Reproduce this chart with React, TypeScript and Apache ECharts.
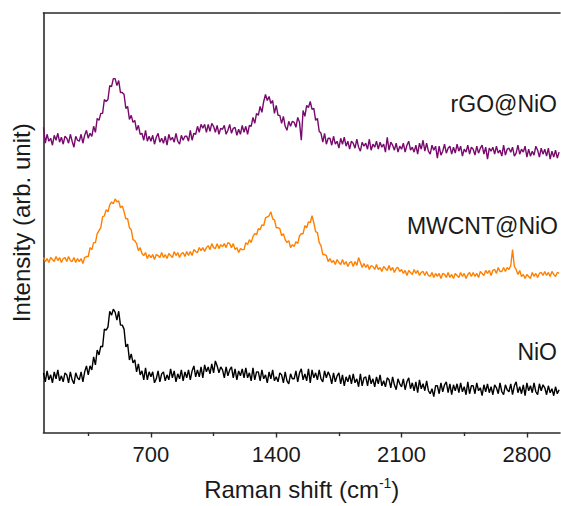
import React, { useEffect, useRef } from "react";
import * as echarts from "echarts";

// Raman shift sampling positions (cm^-1)
const ramanShift = [
  100, 110, 120, 130, 140, 150, 160, 170, 180, 190, 200, 210, 220, 230, 240, 250, 260, 270, 280, 290,
  300, 310, 320, 330, 340, 350, 360, 370, 380, 390, 400, 410, 420, 430, 440, 450, 460, 470, 480, 490,
  500, 510, 520, 530, 540, 550, 560, 570, 580, 590, 600, 610, 620, 630, 640, 650, 660, 670, 680, 690,
  700, 710, 720, 730, 740, 750, 760, 770, 780, 790, 800, 810, 820, 830, 840, 850, 860, 870, 880, 890,
  900, 910, 920, 930, 940, 950, 960, 970, 980, 990, 1000, 1010, 1020, 1030, 1040, 1050, 1060, 1070, 1080, 1090,
  1100, 1110, 1120, 1130, 1140, 1150, 1160, 1170, 1180, 1190, 1200, 1210, 1220, 1230, 1240, 1250, 1260, 1270, 1280, 1290,
  1300, 1310, 1320, 1330, 1340, 1350, 1360, 1370, 1380, 1390, 1400, 1410, 1420, 1430, 1440, 1450, 1460, 1470, 1480, 1490,
  1500, 1510, 1520, 1530, 1540, 1550, 1560, 1570, 1580, 1590, 1600, 1610, 1620, 1630, 1640, 1650, 1660, 1670, 1680, 1690,
  1700, 1710, 1720, 1730, 1740, 1750, 1760, 1770, 1780, 1790, 1800, 1810, 1820, 1830, 1840, 1850, 1860, 1870, 1880, 1890,
  1900, 1910, 1920, 1930, 1940, 1950, 1960, 1970, 1980, 1990, 2000, 2010, 2020, 2030, 2040, 2050, 2060, 2070, 2080, 2090,
  2100, 2110, 2120, 2130, 2140, 2150, 2160, 2170, 2180, 2190, 2200, 2210, 2220, 2230, 2240, 2250, 2260, 2270, 2280, 2290,
  2300, 2310, 2320, 2330, 2340, 2350, 2360, 2370, 2380, 2390, 2400, 2410, 2420, 2430, 2440, 2450, 2460, 2470, 2480, 2490,
  2500, 2510, 2520, 2530, 2540, 2550, 2560, 2570, 2580, 2590, 2600, 2610, 2620, 2630, 2640, 2650, 2660, 2670, 2680, 2690,
  2700, 2710, 2720, 2730, 2740, 2750, 2760, 2770, 2780, 2790, 2800, 2810, 2820, 2830, 2840, 2850, 2860, 2870, 2880, 2890,
  2900, 2910, 2920, 2930, 2940, 2950, 2960, 2970, 2980,
];

// rGO@NiO (offset intensity, arb. unit)
const rgoNiO = [
  307, 291, 300, 293, 296, 289, 299, 294, 301, 292, 297, 290, 298, 296, 291, 300, 293, 287, 298, 294,
  293, 300, 291, 299, 304, 296, 301, 298, 308, 302, 316, 314, 321, 321, 335, 333, 335, 349, 348, 356,
  356, 349, 354, 342, 342, 340, 326, 328, 315, 319, 312, 314, 304, 309, 300, 301, 294, 304, 293, 298,
  293, 299, 290, 297, 301, 292, 296, 291, 298, 289, 300, 294, 297, 292, 301, 293, 290, 299, 294, 298,
  298, 293, 304, 294, 301, 300, 308, 302, 310, 306, 310, 302, 310, 303, 311, 308, 302, 309, 300, 306,
  305, 309, 300, 304, 310, 301, 306, 307, 299, 305, 300, 309, 302, 308, 300, 309, 308, 317, 311, 321,
  319, 328, 322, 333, 340, 334, 338, 331, 334, 321, 329, 319, 319, 311, 318, 308, 304, 313, 308, 313,
  312, 307, 317, 312, 294, 324, 318, 329, 327, 333, 325, 326, 314, 316, 303, 301, 292, 301, 290, 296,
  296, 289, 298, 290, 293, 286, 296, 290, 297, 288, 293, 285, 293, 291, 286, 295, 287, 283, 292, 288,
  291, 285, 295, 284, 290, 287, 293, 285, 292, 287, 290, 282, 297, 284, 292, 289, 284, 291, 282, 288,
  285, 291, 282, 289, 293, 284, 287, 282, 289, 280, 291, 285, 294, 283, 291, 283, 280, 289, 284, 288,
  276, 288, 279, 283, 290, 281, 286, 288, 280, 287, 281, 290, 283, 288, 278, 285, 282, 289, 280, 287,
  285, 279, 288, 281, 286, 289, 280, 287, 275, 286, 283, 287, 280, 288, 281, 284, 278, 289, 279, 285,
  286, 282, 287, 278, 281, 289, 280, 285, 282, 288, 277, 285, 278, 283, 279, 288, 284, 277, 286, 280,
  285, 278, 286, 275, 283, 277, 284, 276, 282,
];

// MWCNT@NiO
const mwcntNiO = [
  176, 172, 175, 171, 176, 174, 172, 177, 173, 176, 171, 175, 176, 172, 177, 173, 172, 176, 171, 175,
  172, 175, 170, 176, 177, 177, 186, 184, 191, 191, 200, 203, 206, 217, 218, 224, 222, 229, 232, 230,
  235, 232, 233, 226, 228, 222, 215, 215, 206, 204, 194, 193, 190, 183, 186, 180, 178, 181, 175, 179,
  176, 179, 174, 179, 178, 176, 181, 176, 179, 175, 180, 178, 176, 182, 178, 181, 176, 180, 181, 177,
  182, 178, 182, 178, 184, 182, 181, 186, 183, 186, 182, 186, 188, 184, 190, 186, 185, 190, 185, 189,
  187, 190, 186, 191, 190, 186, 190, 184, 186, 181, 185, 184, 184, 191, 189, 194, 191, 197, 200, 199,
  205, 204, 209, 208, 216, 217, 218, 222, 215, 214, 206, 206, 205, 198, 200, 194, 191, 193, 186, 189,
  187, 192, 190, 198, 200, 200, 208, 206, 212, 211, 218, 211, 202, 201, 191, 188, 179, 179, 178, 172,
  175, 171, 173, 169, 174, 171, 169, 174, 169, 172, 167, 171, 172, 167, 172, 168, 176, 171, 166, 170,
  166, 169, 164, 168, 167, 164, 169, 164, 166, 162, 167, 165, 163, 168, 163, 166, 161, 165, 166, 162,
  164, 160, 163, 158, 163, 161, 159, 164, 160, 163, 158, 161, 162, 158, 162, 158, 157, 161, 156, 160,
  157, 160, 155, 160, 159, 156, 161, 156, 159, 155, 160, 158, 156, 161, 157, 160, 155, 159, 161, 157,
  161, 157, 160, 156, 162, 160, 158, 163, 160, 163, 158, 163, 164, 160, 166, 162, 162, 166, 162, 166,
  164, 168, 184, 167, 164, 159, 163, 157, 159, 155, 159, 157, 155, 161, 157, 160, 156, 160, 161, 158,
  162, 158, 161, 157, 162, 159, 157, 161, 160,
];

// NiO
const niO = [
  60, 51, 62, 53, 58, 50, 61, 54, 63, 52, 57, 51, 60, 58, 50, 61, 53, 49, 60, 55,
  53, 61, 51, 61, 67, 58, 67, 63, 76, 68, 83, 78, 87, 86, 104, 103, 106, 122, 118, 124,
  121, 113, 122, 108, 108, 104, 86, 89, 73, 79, 70, 73, 61, 69, 58, 62, 53, 65, 53, 61,
  56, 61, 50, 54, 62, 51, 59, 61, 52, 58, 53, 64, 55, 62, 51, 59, 54, 63, 52, 61,
  55, 63, 53, 62, 67, 56, 63, 56, 66, 55, 68, 61, 66, 59, 69, 60, 72, 67, 60, 66,
  63, 55, 66, 57, 63, 66, 55, 64, 53, 62, 57, 64, 55, 65, 55, 60, 52, 65, 53, 61,
  61, 52, 63, 54, 58, 50, 61, 54, 63, 52, 56, 51, 60, 58, 50, 61, 52, 49, 59, 54,
  54, 62, 51, 60, 64, 53, 59, 52, 64, 50, 63, 55, 60, 53, 63, 54, 51, 62, 55, 61,
  57, 49, 60, 51, 57, 60, 49, 58, 47, 56, 51, 58, 49, 59, 50, 54, 46, 59, 47, 55,
  56, 47, 58, 49, 54, 46, 56, 49, 58, 47, 52, 46, 55, 53, 45, 56, 48, 43, 54, 49,
  46, 54, 43, 51, 55, 44, 50, 42, 51, 40, 53, 44, 49, 42, 52, 42, 39, 44, 36, 47,
  47, 39, 50, 41, 48, 51, 40, 49, 38, 48, 42, 49, 40, 50, 41, 46, 38, 51, 39, 47,
  47, 39, 50, 42, 45, 37, 48, 41, 49, 40, 46, 38, 48, 45, 39, 50, 41, 38, 48, 43,
  41, 49, 38, 47, 51, 40, 46, 39, 48, 37, 50, 42, 47, 40, 50, 41, 38, 49, 42, 48,
  45, 38, 47, 40, 44, 37, 46, 39, 43,
];

const majorTicks = [700, 1400, 2100, 2800];
const minorTicks = [350, 1050, 1750, 2450];
const seriesNames = ["rGO@NiO", "MWCNT@NiO", "NiO"];
const seriesColors = ["#780a6e", "#ff8000", "#000000"];

const FONT = "Liberation Sans, Arial, sans-serif";

export default function App() {
  const ref = useRef<HTMLDivElement>(null);
  useEffect(() => {
    if (!ref.current) return;
    const chart = echarts.init(ref.current, undefined, { renderer: "svg" });
    const toPairs = (vals: number[]) => vals.map((v, i) => [ramanShift[i], v]);
    const seriesData = [rgoNiO, mwcntNiO, niO];
    const axisColor = "#2b2b2b";
    const xMin = 100;
    const xMax = 2985;
    chart.setOption({
      animation: false,
      backgroundColor: "#ffffff",
      grid: { left: 43.5, right: 1, top: 13, bottom: 71, containLabel: false },
      xAxis: [
        {
          type: "value",
          min: xMin,
          max: xMax,
          position: "bottom",
          axisLine: { show: true, onZero: false, lineStyle: { color: axisColor, width: 1.6 } },
          axisTick: { show: true, inside: false, length: 5, customValues: majorTicks, lineStyle: { color: axisColor, width: 1.4 } },
          axisLabel: {
            show: true,
            customValues: majorTicks,
            formatter: (v: number) => String(v),
            fontSize: 22,
            fontFamily: FONT,
            color: "#1a1a1a",
            margin: 11,
          },
          splitLine: { show: false },
          name: "Raman shift (cm{sup|-1})",
          nameLocation: "middle",
          nameGap: 43,
          nameTextStyle: {
            fontSize: 24,
            fontFamily: FONT,
            color: "#1a1a1a",
            rich: { sup: { fontSize: 14, fontFamily: FONT, color: "#1a1a1a", padding: [0, 0, 13, 0] } },
          },
        },
        {
          type: "value",
          min: xMin,
          max: xMax,
          position: "bottom",
          axisLine: { show: false, onZero: false },
          axisTick: { show: true, inside: false, length: 3.5, customValues: minorTicks, lineStyle: { color: axisColor, width: 1.4 } },
          axisLabel: { show: false },
          splitLine: { show: false },
        },
        {
          type: "value",
          min: xMin,
          max: xMax,
          position: "top",
          axisLine: { show: true, onZero: false, lineStyle: { color: axisColor, width: 1.6 } },
          axisTick: { show: false },
          axisLabel: { show: false },
          splitLine: { show: false },
        },
      ],
      yAxis: {
        type: "value",
        min: 0,
        max: 422,
        axisLine: { show: true, onZero: false, lineStyle: { color: axisColor, width: 1.6 } },
        axisTick: { show: false },
        axisLabel: { show: false },
        splitLine: { show: false },
        name: "Intensity (arb. unit)",
        nameLocation: "middle",
        nameGap: 10,
        nameTextStyle: { fontSize: 24, fontFamily: FONT, color: "#1a1a1a" },
      },
      series: seriesData.map((vals, i) => ({
        name: seriesNames[i],
        type: "line",
        xAxisIndex: 0,
        yAxisIndex: 0,
        data: toPairs(vals),
        showSymbol: false,
        symbol: "none",
        lineStyle: { color: seriesColors[i], width: 1.4 },
        z: 3 - i,
      })),
      graphic: [
        { type: "text", x: 557, y: 104, style: { text: seriesNames[0], fontSize: 23, fontFamily: FONT, fill: "#1a1a1a", align: "right", verticalAlign: "middle" } },
        { type: "text", x: 558, y: 226, style: { text: seriesNames[1], fontSize: 23, fontFamily: FONT, fill: "#1a1a1a", align: "right", verticalAlign: "middle" } },
        { type: "text", x: 557, y: 352, style: { text: seriesNames[2], fontSize: 23, fontFamily: FONT, fill: "#1a1a1a", align: "right", verticalAlign: "middle" } },
      ],
    });
    return () => chart.dispose();
  }, []);
  return <div ref={ref} style={{ width: 561, height: 506, position: "absolute", left: 0, top: 0 }} />;
}
